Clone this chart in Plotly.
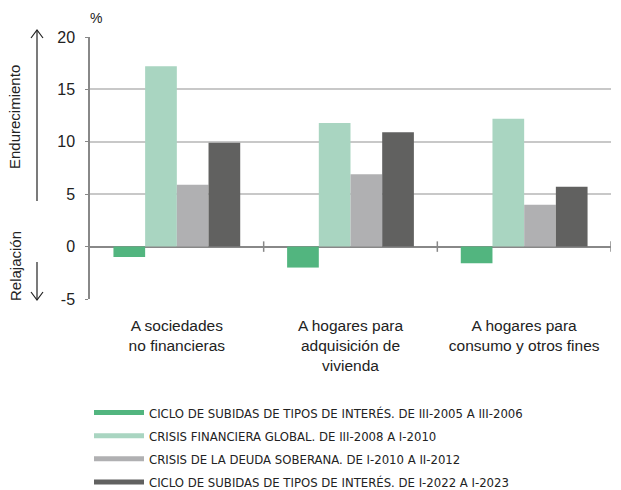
import plotly.graph_objects as go

categories = ["A sociedades<br>no financieras",
              "A hogares para<br>adquisición de<br>vivienda",
              "A hogares para<br>consumo y otros fines"]
series_names = ["CICLO DE SUBIDAS DE TIPOS DE INTERÉS. DE III-2005 A III-2006",
                "CRISIS FINANCIERA GLOBAL. DE III-2008 A I-2010",
                "CRISIS DE LA DEUDA SOBERANA. DE I-2010 A II-2012",
                "CICLO DE SUBIDAS DE TIPOS DE INTERÉS. DE I-2022 A I-2023"]
ciclo_2005 = [-1.0, -2.0, -1.6]
crisis_global = [17.2, 11.8, 12.2]
crisis_deuda = [5.9, 6.9, 4.0]
ciclo_2022 = [9.9, 10.9, 5.7]
tick_vals = [-5, 0, 5, 10, 15, 20]
tick_text = ["-5", "0", "5", "10", "15", "20"]

colors = ["#52b57f", "#a9d5c1", "#b0b0b2", "#616160"]
values = [ciclo_2005, crisis_global, crisis_deuda, ciclo_2022]

W, H = 621, 490
L, R, T, B = 90, 10, 37, 191
pw, ph = W - L - R, H - T - B

def px(x):
    return (x - L) / pw

def py(y):
    return (H - B - y) / ph

FONT = "Liberation Sans, Arial, sans-serif"
NARROW = "Liberation Sans Narrow, DejaVu Sans Condensed, Arial Narrow, sans-serif"
TXT = "#222222"

fig = go.Figure()
xs = list(range(len(categories)))
for name, vals, col in zip(series_names, values, colors):
    fig.add_trace(go.Bar(x=xs, y=vals, name=name, marker_color=col,
                         marker_line_width=0, showlegend=False))
for i, (name, col) in enumerate(zip(series_names, colors)):
    fig.add_trace(go.Scatter(x=[None], y=[None], mode="lines", name=name,
                             legendgroup=f"g{i}",
                             line=dict(color=col, width=5), showlegend=True))

shapes = []
for b in [0.5, 1.5, 2.5]:
    shapes.append(dict(type="line", xref="x", yref="y", x0=b, x1=b, y0=-0.5, y1=0.5,
                       line=dict(color="#888888", width=1.5)))
ax = px(37)
shapes.append(dict(type="line", xref="paper", yref="paper", x0=ax, x1=ax,
                   y0=py(201), y1=py(30), line=dict(color="#222", width=1.2)))
shapes.append(dict(type="path", xref="paper", yref="paper",
                   path=f"M {px(31)},{py(38)} L {ax},{py(30)} L {px(43)},{py(38)}",
                   line=dict(color="#222", width=1.2)))
shapes.append(dict(type="line", xref="paper", yref="paper", x0=ax, x1=ax,
                   y0=py(262), y1=py(300), line=dict(color="#222", width=1.2)))
shapes.append(dict(type="path", xref="paper", yref="paper",
                   path=f"M {px(31)},{py(292)} L {ax},{py(300)} L {px(43)},{py(292)}",
                   line=dict(color="#222", width=1.2)))

annotations = [
    dict(text="Endurecimiento", x=px(15), y=py(117), xref="paper", yref="paper",
         xanchor="center", yanchor="middle",
         textangle=-90, showarrow=False, font=dict(family=FONT, size=15, color=TXT)),
    dict(text="Relajación", x=px(15), y=py(266), xref="paper", yref="paper",
         xanchor="center", yanchor="middle",
         textangle=-90, showarrow=False, font=dict(family=FONT, size=15, color=TXT)),
    dict(text="%", x=px(96), y=py(18), xref="paper", yref="paper",
         xanchor="center", yanchor="middle",
         showarrow=False, font=dict(family=FONT, size=14, color=TXT)),
]

fig.update_layout(
    width=W, height=H,
    margin=dict(l=L, r=R, t=T, b=B, autoexpand=False),
    plot_bgcolor="white", paper_bgcolor="white",
    barmode="group", bargap=0.27, bargroupgap=0,
    shapes=shapes, annotations=annotations,
    font=dict(family=FONT, color=TXT),
    legend=dict(x=px(89), y=py(397.5), xanchor="left", yanchor="top",
                font=dict(family=NARROW, size=13, color=TXT),
                itemwidth=50, tracegroupgap=3.3, bgcolor="rgba(0,0,0,0)"),
    xaxis=dict(tickvals=xs, ticktext=categories, range=[-0.5, 2.5],
               showgrid=False, showline=False, ticks="", zeroline=False,
               ticklabelstandoff=15,
               tickfont=dict(family=FONT, size=15.5, color=TXT)),
    yaxis=dict(range=[-5, 20], tickvals=tick_vals, ticktext=tick_text,
               showgrid=True, gridcolor="#c8c8c8", gridwidth=1.5,
               zeroline=True, zerolinecolor="#888888", zerolinewidth=2,
               showline=True, linecolor="#888888", linewidth=1.5,
               ticks="outside", ticklen=3, tickcolor="#888888",
               ticklabelstandoff=7,
               tickfont=dict(family=FONT, size=16, color=TXT)),
)
fig.write_html("out.html", config={"displayModeBar": False},
               post_script="document.body.style.margin='0';document.body.style.overflow='hidden';")
